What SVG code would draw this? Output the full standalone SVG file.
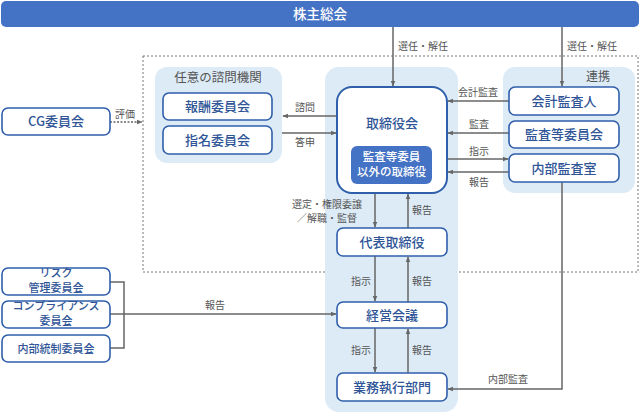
<svg xmlns="http://www.w3.org/2000/svg" width="640" height="414" viewBox="0 0 640 414">
<defs>
<style>
text{font-family:"Noto Sans CJK JP","Noto Sans",sans-serif}
.panel{fill:#ddebf7}
.box{fill:#fff;stroke:#2f5fab;stroke-width:1.6}
.bt{fill:#2f5597;font-size:13px;font-weight:500;text-anchor:middle}
.st{fill:#2f5597;font-size:11px;font-weight:500;text-anchor:middle}
.lbl{fill:#555;font-size:10px}
.ln{stroke:#666;stroke-width:1.5;fill:none}
</style>
<marker id="ah" viewBox="0 0 10 10" refX="9" refY="5" markerWidth="6" markerHeight="6" orient="auto-start-reverse" markerUnits="userSpaceOnUse"><path d="M0,1 L10,5 L0,9 z" fill="#666"/></marker>
</defs>
<rect width="640" height="414" fill="#fff"/>
<g id="shareholders">
<rect x="1" y="1" width="638" height="26" rx="5" fill="#4472c4"/>
<text x="320" y="19" fill="#fff" font-size="13.5" font-weight="500" text-anchor="middle">株主総会</text>
</g>
<rect x="143" y="56" width="495" height="216" fill="none" stroke="#777" stroke-width="1" stroke-dasharray="2,2"/>
<g id="advisory">
<rect class="panel" x="155" y="67" width="127" height="96" rx="12"/>
<text x="218" y="82" fill="#555" font-size="12.5" text-anchor="middle">任意の諮問機関</text>
</g>
<g id="central-panel"><rect class="panel" x="325" y="67" width="133" height="345" rx="14"/></g>
<g id="renkei">
<rect class="panel" x="503" y="67" width="132" height="126" rx="12"/>
<text x="598" y="81" fill="#555" font-size="12" text-anchor="middle">連携</text>
</g>
<g id="connectors">
<line class="ln" x1="393" y1="27" x2="393" y2="86" marker-end="url(#ah)"/>
<line class="ln" x1="562" y1="27" x2="562" y2="86" marker-end="url(#ah)"/>
<line class="ln" x1="336" y1="116" x2="283" y2="116" marker-end="url(#ah)"/>
<line class="ln" x1="282" y1="133" x2="336" y2="133" marker-end="url(#ah)"/>
<line x1="110" y1="122" x2="142" y2="122" stroke="#666" stroke-width="1.5" stroke-dasharray="2,1.5" marker-end="url(#ah)"/>
<line class="ln" x1="509" y1="101" x2="448" y2="101" marker-end="url(#ah)"/>
<line class="ln" x1="509" y1="133" x2="448" y2="133" marker-end="url(#ah)"/>
<line class="ln" x1="447" y1="159" x2="508" y2="159" marker-end="url(#ah)"/>
<line class="ln" x1="509" y1="172" x2="448" y2="172" marker-end="url(#ah)"/>
<line class="ln" x1="375" y1="193" x2="375" y2="227" marker-end="url(#ah)"/>
<line class="ln" x1="408" y1="228" x2="408" y2="194" marker-end="url(#ah)"/>
<line class="ln" x1="375" y1="256" x2="375" y2="301" marker-end="url(#ah)"/>
<line class="ln" x1="408" y1="302" x2="408" y2="257" marker-end="url(#ah)"/>
<line class="ln" x1="375" y1="328" x2="375" y2="372" marker-end="url(#ah)"/>
<line class="ln" x1="408" y1="373" x2="408" y2="329" marker-end="url(#ah)"/>
<polyline class="ln" points="562,182 562,389 448,389" marker-end="url(#ah)"/>
<polyline class="ln" points="110,282 124,282 124,348 110,348"/>
<line class="ln" x1="110" y1="314" x2="336" y2="314" marker-end="url(#ah)"/>
<text class="lbl" x="398" y="50">選任・解任</text>
<text class="lbl" x="567" y="50">選任・解任</text>
<text class="lbl" x="295" y="111">諮問</text>
<text class="lbl" x="295" y="146">答申</text>
<text class="lbl" x="115" y="118">評価</text>
<text class="lbl" x="458" y="96">会計監査</text>
<text class="lbl" x="469" y="128">監査</text>
<text class="lbl" x="469" y="155">指示</text>
<text class="lbl" x="469" y="186">報告</text>
<text class="lbl" x="292" y="208">選定・権限委譲</text>
<text class="lbl" x="297" y="222">／解職・監督</text>
<text class="lbl" x="412" y="214">報告</text>
<text class="lbl" x="351" y="285">指示</text>
<text class="lbl" x="412" y="285">報告</text>
<text class="lbl" x="351" y="354">指示</text>
<text class="lbl" x="412" y="354">報告</text>
<text class="lbl" x="205" y="309">報告</text>
<text class="lbl" x="488" y="383">内部監査</text>
</g>
<g id="hoshu"><rect class="box" x="163" y="93" width="109" height="27" rx="6"/><text class="bt" x="217.5" y="111">報酬委員会</text></g>
<g id="shimei"><rect class="box" x="163" y="126" width="109" height="28" rx="6"/><text class="bt" x="217.5" y="145">指名委員会</text></g>
<g id="cg"><rect class="box" x="2" y="108" width="108" height="27" rx="6"/><text class="bt" x="56" y="126">CG委員会</text></g>
<g id="board">
<rect x="337" y="87" width="110" height="106" rx="15" fill="#fff" stroke="#2f5fab" stroke-width="2"/>
<text class="bt" x="392" y="128">取締役会</text>
<rect x="351" y="146" width="81" height="38" rx="6" fill="#4472c4"/>
<text x="391.5" y="161" fill="#fff" font-size="11.5" font-weight="500" text-anchor="middle">監査等委員</text>
<text x="391.5" y="176" fill="#fff" font-size="11.5" font-weight="500" text-anchor="middle">以外の取締役</text>
</g>
<g id="kaikei"><rect class="box" x="509" y="87" width="110" height="28" rx="6"/><text class="bt" x="564" y="106">会計監査人</text></g>
<g id="kansatoiinkai"><rect class="box" x="509" y="121" width="110" height="27" rx="6"/><text class="bt" x="564" y="139">監査等委員会</text></g>
<g id="naibukansashitsu"><rect class="box" x="509" y="154" width="110" height="28" rx="6"/><text class="bt" x="564" y="173">内部監査室</text></g>
<g id="daihyo"><rect class="box" x="337" y="228" width="110" height="28" rx="6"/><text class="bt" x="392" y="247">代表取締役</text></g>
<g id="keiei"><rect class="box" x="337" y="302" width="110" height="26" rx="6"/><text class="bt" x="392" y="320">経営会議</text></g>
<g id="gyomu"><rect class="box" x="337" y="373" width="110" height="28" rx="6"/><text class="bt" x="392" y="392">業務執行部門</text></g>
<g id="risk"><rect class="box" x="2" y="268" width="108" height="27" rx="6"/><text class="st" x="56" y="277">リスク</text><text class="st" x="56" y="292">管理委員会</text></g>
<g id="compliance"><rect class="box" x="2" y="301" width="108" height="27" rx="6"/><text class="st" x="56" y="310">コンプライアンス</text><text class="st" x="56" y="325">委員会</text></g>
<g id="naibutosei"><rect class="box" x="2" y="335" width="108" height="27" rx="6"/><text class="st" x="56" y="353">内部統制委員会</text></g>
</svg>
